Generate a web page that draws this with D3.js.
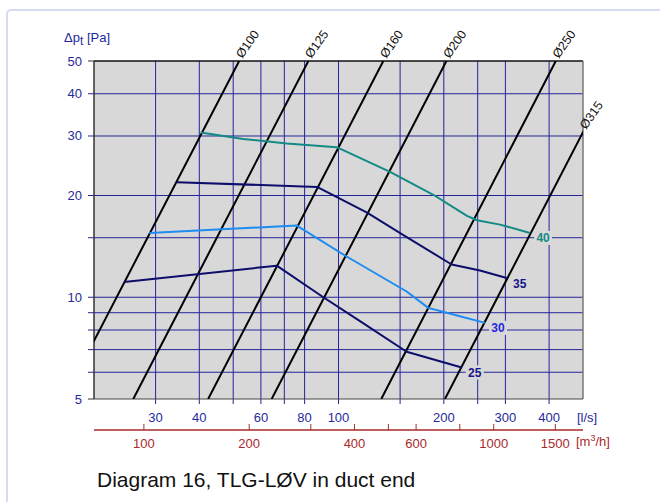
<!DOCTYPE html>
<html>
<head>
<meta charset="utf-8">
<script src="https://cdn.jsdelivr.net/npm/d3@7"></script>
<style>
  html, body { margin: 0; padding: 0; background: #fff; }
  svg { display: block; font-family: "Liberation Sans", Arial, Helvetica, sans-serif; }
</style>
</head>
<body>
<svg id="chart" width="660" height="502"></svg>
<script>
// ---- data ----
const xGrid = [30, 40, 50, 60, 70, 80, 100, 150, 200, 250, 300, 400];
const xTickLabels = [30, 40, 60, 80, 100, 200, 300, 400];
const yGrid = [6, 7, 8, 9, 10, 15, 20, 30, 40];
const yTickLabels = [5, 10, 20, 30, 40, 50];
const m3hTicks = [100, 200, 300, 400, 500, 600, 800, 1000, 1500];
const m3hLabels = [100, 200, 400, 600, 1000, 1500];

const diameters = ["Ø100", "Ø125", "Ø160", "Ø200", "Ø250", "Ø315"];
const dq5 = [16.4, 25.9, 42.4, 64.4, 132.5, 201.5];   // l/s at 5 Pa
const dq50 = [52.0, 82.0, 134.3, 203.5, 418, 637];    // l/s at 50 Pa

const curveNames = ["25", "30", "35", "40"];
const q25 = [24.4, 66.6, 90.5, 115.2, 156.6, 225];
const p25 = [11.1, 12.4, 10.0, 8.5, 6.9, 6.2];
const q30 = [28.8, 76.0, 105.5, 156.6, 180.6, 203.8, 262.4];
const p30 = [15.5, 16.3, 13.2, 10.4, 9.3, 9.0, 8.4];
const q35 = [34.5, 86.8, 120.7, 152.9, 210.6, 253.8, 302.6];
const p35 = [21.9, 21.2, 17.8, 15.3, 12.5, 12.0, 11.4];
const q40 = [40.4, 53.4, 71.1, 98.8, 140.4, 186.7, 233, 248.9, 289.6, 352.9];
const p40 = [30.7, 29.4, 28.5, 27.8, 23.5, 20.1, 17.4, 16.9, 16.4, 15.5];

const curveColors = ["#0d0d6b", "#1c8cf0", "#0d0d6b", "#138a86"];
const labelColors = ["#16168a", "#2727e0", "#16168a", "#138a86"];

// ---- layout ----
const L = 94, R = 583, T = 61, B = 399;
const svg = d3.select("#chart");

const x = d3.scaleLog().domain([20, 500]).range([L, R]);
const y = d3.scaleLog().domain([5, 50]).range([B, T]);
const xm = d3.scaleLog().domain([20 * 3.6, 500 * 3.6]).range([L, R]);

const gridCol = "#24249a";
const blueTxt = "#1f2a9c";
const red = "#a82a2a";

// page border
svg.append("rect").attr("x", 7).attr("y", 10).attr("width", 720).attr("height", 600)
  .attr("rx", 4).attr("fill", "none").attr("stroke", "#d6daf2").attr("stroke-width", 2);

// plot background
svg.append("rect").attr("x", L).attr("y", T).attr("width", R - L).attr("height", B - T)
  .attr("fill", "#d8d8d8");

// clip
svg.append("clipPath").attr("id", "clip").append("rect")
  .attr("x", L).attr("y", T).attr("width", R - L).attr("height", B - T);

// vertical grid
svg.append("g").selectAll("line").data(xGrid).join("line")
  .attr("x1", d => x(d)).attr("x2", d => x(d))
  .attr("y1", T).attr("y2", B + 5)
  .attr("stroke", gridCol).attr("stroke-width", 1);

// horizontal grid
svg.append("g").selectAll("line").data(yGrid).join("line")
  .attr("x1", L - 6).attr("x2", R)
  .attr("y1", d => y(d)).attr("y2", d => y(d))
  .attr("stroke", gridCol).attr("stroke-width", 1);
// ticks at 5 and 50
svg.append("g").selectAll("line").data([5, 50]).join("line")
  .attr("x1", L - 6).attr("x2", L)
  .attr("y1", d => y(d)).attr("y2", d => y(d))
  .attr("stroke", "#333").attr("stroke-width", 1);

// borders
svg.append("line").attr("x1", L).attr("x2", R).attr("y1", T).attr("y2", T).attr("stroke", "#111").attr("stroke-width", 1.5);
svg.append("line").attr("x1", R).attr("x2", R).attr("y1", T).attr("y2", B).attr("stroke", "#777").attr("stroke-width", 1.5);
svg.append("line").attr("x1", L).attr("x2", R).attr("y1", B).attr("y2", B).attr("stroke", "#444").attr("stroke-width", 1);
svg.append("line").attr("x1", L).attr("x2", L).attr("y1", T).attr("y2", B).attr("stroke", "#333").attr("stroke-width", 1.5);

// diameter lines
const dg = svg.append("g").attr("clip-path", "url(#clip)");
diameters.forEach((name, i) => {
  dg.append("line")
    .attr("x1", x(dq5[i])).attr("y1", y(5))
    .attr("x2", x(dq50[i])).attr("y2", y(50))
    .attr("stroke", "#000").attr("stroke-width", 2);
});
// diameter labels
diameters.forEach((name, i) => {
  let px = x(dq50[i]), py = y(50);
  if (px > R) {
    const x1 = x(dq5[i]), y1 = y(5), x2 = x(dq50[i]), y2 = y(50);
    const t = (R - x1) / (x2 - x1);
    px = R; py = y1 + t * (y2 - y1);
  }
  svg.append("text")
    .attr("transform", `translate(${px + 3},${py - 2}) rotate(-55)`)
    .attr("font-size", 12.5).attr("fill", "#111")
    .text(name);
});

// curves
const allQ = [q25, q30, q35, q40], allP = [p25, p30, p35, p40];
const line = d3.line().x(d => x(d[0])).y(d => y(d[1]));
curveNames.forEach((nm, i) => {
  const pts = allQ[i].map((q, j) => [q, allP[i][j]]);
  svg.append("path").datum(pts).attr("d", line)
    .attr("fill", "none").attr("stroke", curveColors[i]).attr("stroke-width", 2)
    .attr("stroke-linejoin", "round");
  const last = pts[pts.length - 1];
  const lx = x(last[0]) + 13, ly = y(last[1]) + 5;
  svg.append("rect").attr("x", lx - 9).attr("y", ly - 7).attr("width", 18).attr("height", 14)
    .attr("fill", "#d8d8d8");
  svg.append("text").attr("x", lx).attr("y", ly + 4.5)
    .attr("text-anchor", "middle").attr("font-size", 12).attr("font-weight", "bold")
    .attr("fill", labelColors[i]).text(nm);
});

// y labels
svg.append("g").selectAll("text").data(yTickLabels).join("text")
  .attr("x", 82).attr("y", d => y(d) + 4.5)
  .attr("text-anchor", "end").attr("font-size", 13).attr("fill", blueTxt)
  .text(d => d);

// y title
const yt = svg.append("text").attr("x", 64).attr("y", 42).attr("font-size", 13).attr("fill", blueTxt);
yt.append("tspan").text("Δp");
yt.append("tspan").attr("dy", 3).attr("font-size", 12).text("t");
yt.append("tspan").attr("dy", -3).text(" [Pa]");

// x labels (l/s)
svg.append("g").selectAll("text").data(xTickLabels).join("text")
  .attr("x", d => x(d)).attr("y", 422)
  .attr("text-anchor", "middle").attr("font-size", 13).attr("fill", blueTxt)
  .text(d => d);
svg.append("text").attr("x", 577).attr("y", 422).attr("font-size", 13).attr("fill", blueTxt).text("[l/s]");

// m3/h axis
svg.append("line").attr("x1", L).attr("x2", R).attr("y1", 430).attr("y2", 430)
  .attr("stroke", red).attr("stroke-width", 1.5);
svg.append("g").selectAll("line").data(m3hTicks).join("line")
  .attr("x1", d => xm(d)).attr("x2", d => xm(d)).attr("y1", 430).attr("y2", 424)
  .attr("stroke", red).attr("stroke-width", 1);
svg.append("g").selectAll("text").data(m3hLabels).join("text")
  .attr("x", d => xm(d)).attr("y", 448)
  .attr("text-anchor", "middle").attr("font-size", 13).attr("fill", red)
  .text(d => d);
const mt = svg.append("text").attr("x", 576).attr("y", 446).attr("font-size", 13).attr("fill", red);
mt.append("tspan").text("[m");
mt.append("tspan").attr("dy", -5).attr("font-size", 9).text("3");
mt.append("tspan").attr("dy", 5).text("/h]");

// caption
svg.append("text").attr("x", 97).attr("y", 487).attr("font-size", 21).attr("fill", "#111")
  .text("Diagram 16, TLG-LØV in duct end");
</script>
</body>
</html>
